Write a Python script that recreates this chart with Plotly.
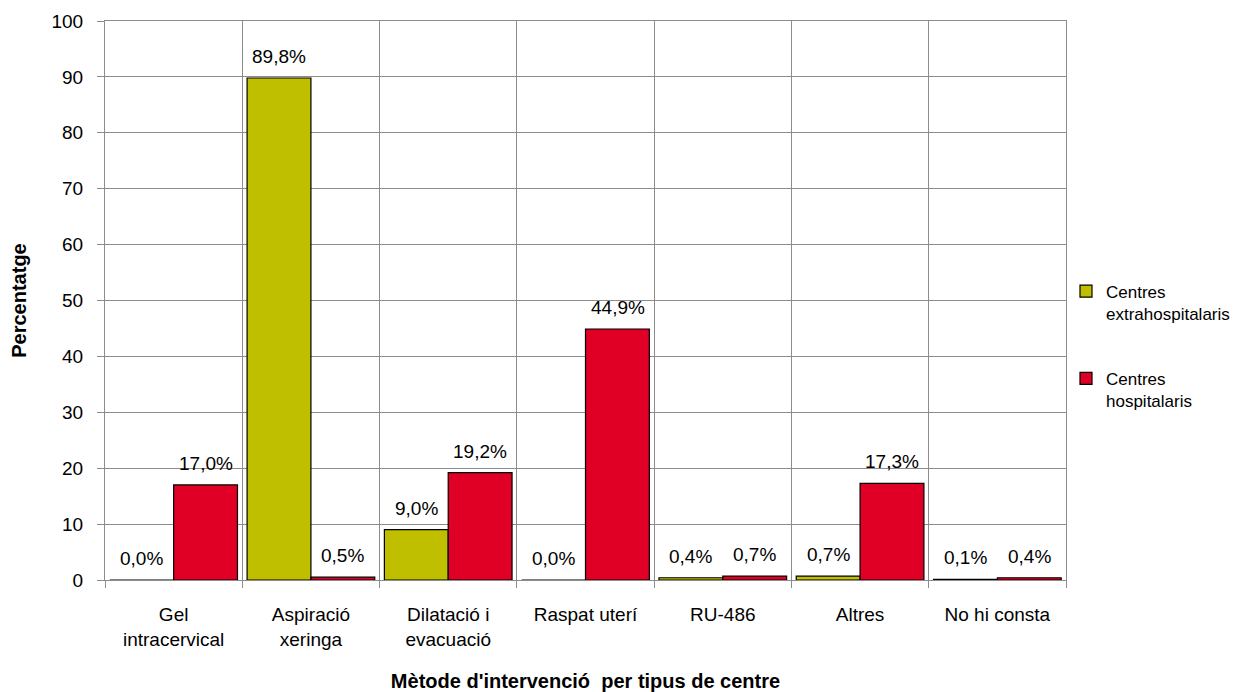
import plotly.graph_objects as go

categories = ["Gel<br>intracervical", "Aspiració<br>xeringa", "Dilatació i<br>evacuació",
              "Raspat uterí", "RU-486", "Altres", "No hi consta"]
extra = [0.0, 89.8, 9.0, 0.0, 0.4, 0.7, 0.1]
hosp = [17.0, 0.5, 19.2, 44.9, 0.7, 17.3, 0.4]
y_ticks = list(range(0, 101, 10))

fmt = lambda v: f"{v:.1f}%".replace(".", ",")

fig = go.Figure()
fig.add_trace(go.Bar(x=categories, y=extra, name="Centres<br>extrahospitalaris",
                     marker=dict(color="#BFBF00", line=dict(color="#000000", width=1.2)),
                     legendgroup="a"))
fig.add_trace(go.Bar(x=categories, y=hosp, name="Centres<br>hospitalaris",
                     marker=dict(color="#E00025", line=dict(color="#000000", width=1.2)),
                     legendgroup="b"))

# etiquetes de dades sobre les barres
for vals, dx in [(extra, -32), (hosp, 32)]:
    for c, v in zip(categories, vals):
        fig.add_annotation(x=c, y=v, text=fmt(v), showarrow=False, xshift=dx,
                           yanchor="bottom", yshift=9,
                           font=dict(size=19, color="#000000"))

fig.update_layout(
    width=1241, height=692,
    margin=dict(l=97, r=183, t=13, b=120),
    plot_bgcolor="white", paper_bgcolor="white",
    font=dict(family="Liberation Sans, Arial", size=19, color="#000000"),
    barmode="group", bargap=0.07, bargroupgap=0,
    legend=dict(x=1.0, y=0.548, yanchor="top", tracegroupgap=40, valign="top",
                traceorder="grouped", font=dict(size=17), itemwidth=30,
                bgcolor="rgba(0,0,0,0)"),
)
fig.update_xaxes(
    title=dict(text="<b>Mètode d'intervenció  per tipus de centre</b>", standoff=25,
               font=dict(size=20)),
    tickson="boundaries", showgrid=True, gridcolor="#8C8C8C", gridwidth=1,
    ticks="outside", ticklen=7, tickcolor="#8C8C8C", ticklabelstandoff=17,
    showline=True, linecolor="#8C8C8C", mirror=True, automargin=False,
)
fig.update_yaxes(
    title=dict(text="<b>Percentatge</b>", standoff=20, font=dict(size=20)),
    range=[0, 100], tickvals=y_ticks, showgrid=True, gridcolor="#8C8C8C", gridwidth=1,
    ticks="outside", ticklen=7, tickcolor="#8C8C8C", ticklabelstandoff=10,
    showline=True, linecolor="#8C8C8C", mirror=True, zeroline=False, automargin=False,
)

fig.write_html("out.html")
